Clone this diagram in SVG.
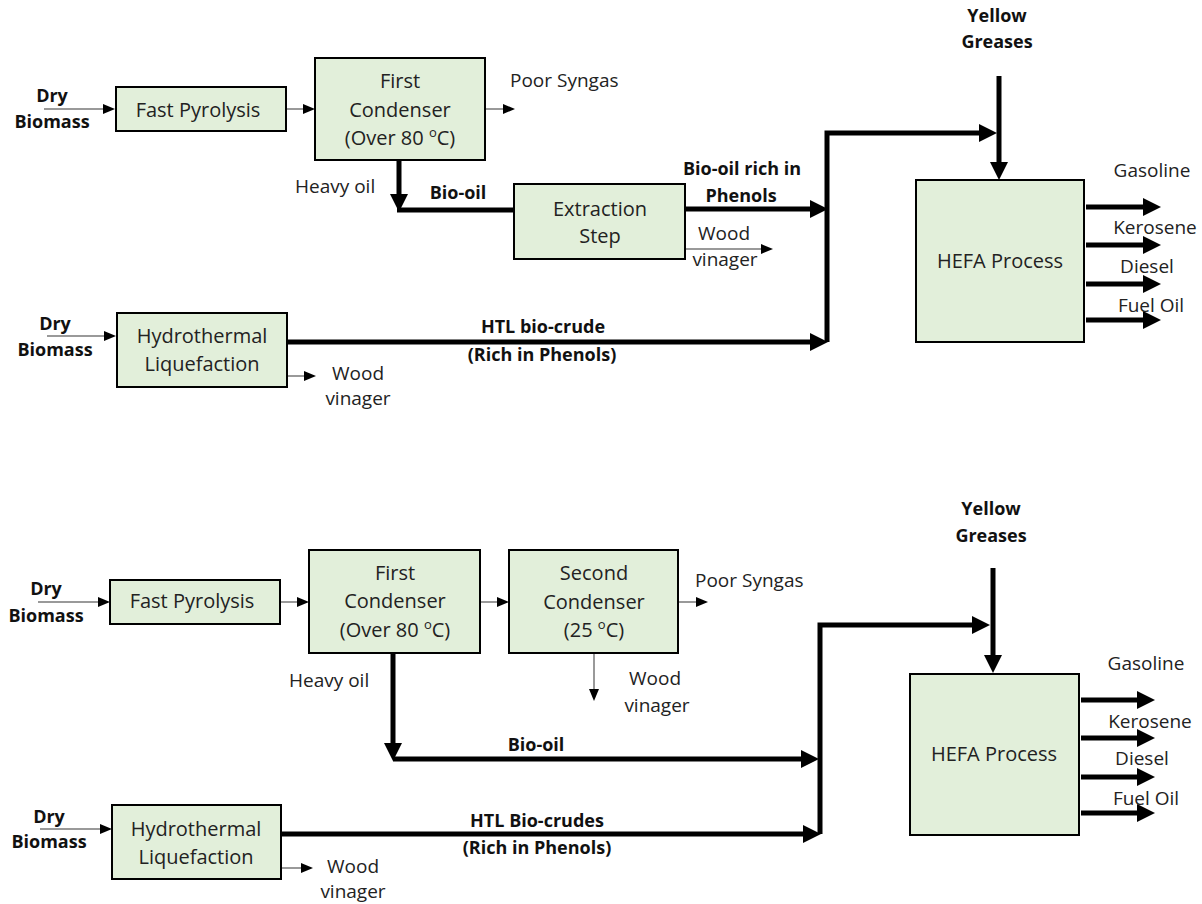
<svg xmlns="http://www.w3.org/2000/svg" width="1202" height="904" viewBox="0 0 1202 904">
<style>
.box{fill:#E2EFDA;stroke:#000;stroke-width:2}
.t{font-family:"Open Sans","Liberation Sans",sans-serif;font-size:20px;fill:#222;text-anchor:middle}
.l{font-family:"Open Sans","Liberation Sans",sans-serif;font-size:19px;fill:#222}
.b{font-family:"Open Sans","Liberation Sans",sans-serif;font-size:18px;font-weight:bold;fill:#111;text-anchor:middle}
.thin{stroke:#777;stroke-width:1.5;fill:none;marker-end:url(#ah)}
.thick{stroke:#000;stroke-width:5;fill:none}
.thicka{stroke:#000;stroke-width:5;fill:none;marker-end:url(#AH)}
.sup{font-size:13px}
</style>
<defs>
<marker id="ah" markerUnits="userSpaceOnUse" markerWidth="12" markerHeight="10" refX="0" refY="5" orient="auto"><path d="M0,0 L12,5 L0,10 z" fill="#000"/></marker>
<marker id="AH" markerUnits="userSpaceOnUse" markerWidth="18" markerHeight="18" refX="0" refY="9" orient="auto"><path d="M0,0 L18,9 L0,18 z" fill="#000"/></marker>
</defs>
<rect width="1202" height="904" fill="#fff"/>

<g id="connectors">
<!-- top -->
<path class="thin" d="M44,109 H103"/>
<path class="thin" d="M286,109 H303"/>
<path class="thin" d="M486,109 H503"/>
<path class="thicka" d="M399,160 V194"/>
<path class="thick" d="M397,210 H514"/>
<path class="thicka" d="M685,209 H810"/>
<path class="thin" d="M685,249 H761"/>
<path class="thin" d="M47,336 H104"/>
<path class="thicka" d="M287,342 H810"/>
<path class="thin" d="M287,376 H304"/>
<path class="thicka" d="M827,342 V133 H979"/>
<path class="thicka" d="M999,76 V162"/>
<path class="thicka" d="M1086,207 H1143"/>
<path class="thicka" d="M1086,245 H1143"/>
<path class="thicka" d="M1086,284 H1143"/>
<path class="thicka" d="M1086,320 H1143"/>
<!-- bottom -->
<path class="thin" d="M38,602 H98"/>
<path class="thin" d="M280,602 H297"/>
<path class="thin" d="M480,602 H497"/>
<path class="thin" d="M678,602 H696"/>
<path class="thin" d="M594,653 V689"/>
<path class="thicka" d="M393,653 V743"/>
<path class="thicka" d="M393,759 H801"/>
<path class="thin" d="M40,829 H100"/>
<path class="thicka" d="M281,834 H803"/>
<path class="thin" d="M281,868 H301"/>
<path class="thicka" d="M820,834 V625 H972"/>
<path class="thicka" d="M993,568 V655"/>
<path class="thicka" d="M1081,700 H1137"/>
<path class="thicka" d="M1081,738 H1137"/>
<path class="thicka" d="M1081,777 H1137"/>
<path class="thicka" d="M1081,813 H1137"/>
</g>

<!-- TOP DIAGRAM -->
<g id="top-dry-biomass-1"><text class="b" x="52" y="102">Dry</text><text class="b" x="52" y="128">Biomass</text></g>
<g id="top-fast-pyrolysis"><rect class="box" x="116" y="87" width="170" height="44"/><text class="t" x="198" y="117">Fast Pyrolysis</text></g>
<g id="top-first-condenser"><rect class="box" x="315" y="58" width="170" height="102"/><text class="t" x="400" y="88">First</text><text class="t" x="400" y="117">Condenser</text><text class="t" x="400" y="145">(Over 80 <tspan class="sup" dy="-8">o</tspan><tspan dy="8">C)</tspan></text></g>
<g id="top-poor-syngas"><text class="l" x="510" y="87">Poor Syngas</text></g>
<g id="top-heavy-oil"><text class="l" x="295" y="193">Heavy oil</text></g>
<g id="top-bio-oil"><text class="b" x="458" y="199">Bio-oil</text></g>
<g id="top-extraction"><rect class="box" x="514" y="184" width="171" height="75"/><text class="t" x="600" y="216">Extraction</text><text class="t" x="600" y="243">Step</text></g>
<g id="top-bio-oil-rich"><text class="b" x="742" y="175">Bio-oil rich in</text><text class="b" x="741" y="202">Phenols</text></g>
<g id="top-wood-vinager-ext"><text class="l" x="724" y="240" text-anchor="middle">Wood</text><text class="l" x="725" y="266" text-anchor="middle">vinager</text></g>
<g id="top-dry-biomass-2"><text class="b" x="55" y="330">Dry</text><text class="b" x="55" y="356">Biomass</text></g>
<g id="top-htl"><rect class="box" x="117" y="313" width="170" height="74"/><text class="t" x="202" y="343">Hydrothermal</text><text class="t" x="202" y="371">Liquefaction</text></g>
<g id="top-htl-biocrude"><text class="b" x="543" y="333">HTL bio-crude</text><text class="b" x="542" y="361">(Rich in Phenols)</text></g>
<g id="top-wood-vinager-htl"><text class="l" x="358" y="380" text-anchor="middle">Wood</text><text class="l" x="358" y="405" text-anchor="middle">vinager</text></g>
<g id="top-yellow-greases"><text class="b" x="997" y="22">Yellow</text><text class="b" x="997" y="48">Greases</text></g>
<g id="top-hefa"><rect class="box" x="916" y="180" width="168" height="162"/><text class="t" x="1000" y="268">HEFA Process</text></g>
<g id="top-products"><text class="l" x="1152" y="177" text-anchor="middle">Gasoline</text><text class="l" x="1155" y="234" text-anchor="middle">Kerosene</text><text class="l" x="1147" y="273" text-anchor="middle">Diesel</text><text class="l" x="1151" y="312" text-anchor="middle">Fuel Oil</text></g>

<!-- BOTTOM DIAGRAM -->
<g id="bot-dry-biomass-1"><text class="b" x="46" y="595">Dry</text><text class="b" x="46" y="622">Biomass</text></g>
<g id="bot-fast-pyrolysis"><rect class="box" x="110" y="580" width="170" height="44"/><text class="t" x="192" y="608">Fast Pyrolysis</text></g>
<g id="bot-first-condenser"><rect class="box" x="309" y="550" width="171" height="103"/><text class="t" x="395" y="580">First</text><text class="t" x="395" y="608">Condenser</text><text class="t" x="395" y="637">(Over 80 <tspan class="sup" dy="-8">o</tspan><tspan dy="8">C)</tspan></text></g>
<g id="bot-second-condenser"><rect class="box" x="509" y="550" width="169" height="103"/><text class="t" x="594" y="580">Second</text><text class="t" x="594" y="609">Condenser</text><text class="t" x="594" y="637">(25 <tspan class="sup" dy="-8">o</tspan><tspan dy="8">C)</tspan></text></g>
<g id="bot-poor-syngas"><text class="l" x="695" y="587">Poor Syngas</text></g>
<g id="bot-wood-vinager-cond"><text class="l" x="655" y="685" text-anchor="middle">Wood</text><text class="l" x="657" y="712" text-anchor="middle">vinager</text></g>
<g id="bot-heavy-oil"><text class="l" x="289" y="687">Heavy oil</text></g>
<g id="bot-bio-oil"><text class="b" x="536" y="751">Bio-oil</text></g>
<g id="bot-dry-biomass-2"><text class="b" x="49" y="823">Dry</text><text class="b" x="49" y="848">Biomass</text></g>
<g id="bot-htl"><rect class="box" x="112" y="805" width="169" height="74"/><text class="t" x="196" y="836">Hydrothermal</text><text class="t" x="196" y="864">Liquefaction</text></g>
<g id="bot-htl-biocrudes"><text class="b" x="537" y="827">HTL Bio-crudes</text><text class="b" x="537" y="854">(Rich in Phenols)</text></g>
<g id="bot-wood-vinager-htl"><text class="l" x="353" y="873" text-anchor="middle">Wood</text><text class="l" x="353" y="898" text-anchor="middle">vinager</text></g>
<g id="bot-yellow-greases"><text class="b" x="991" y="515">Yellow</text><text class="b" x="991" y="542">Greases</text></g>
<g id="bot-hefa"><rect class="box" x="910" y="674" width="169" height="161"/><text class="t" x="994" y="761">HEFA Process</text></g>
<g id="bot-products"><text class="l" x="1146" y="670" text-anchor="middle">Gasoline</text><text class="l" x="1150" y="728" text-anchor="middle">Kerosene</text><text class="l" x="1142" y="765" text-anchor="middle">Diesel</text><text class="l" x="1146" y="805" text-anchor="middle">Fuel Oil</text></g>
</svg>
